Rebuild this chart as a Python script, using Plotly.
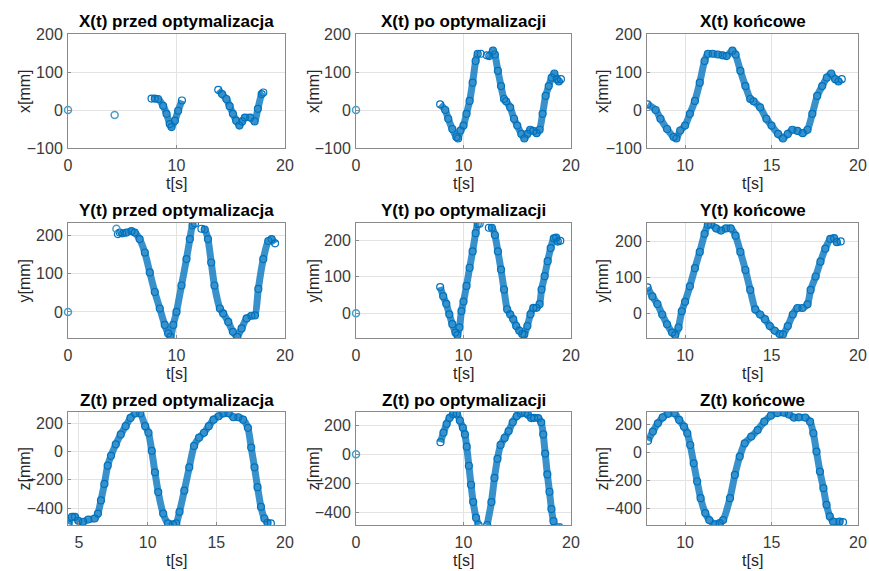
import plotly.graph_objects as go

# ---------------- data ----------------
# X(t) końcowe
t_x_final = [7.83, 8.3, 8.58, 8.96, 9.34, 9.5, 9.72, 10.0, 10.28, 10.57, 10.85, 11.13, 11.32, 11.6,
             11.9, 12.17, 12.4, 12.74, 12.92, 13.2, 13.49, 13.77, 13.96, 14.34, 14.7, 15.0, 15.38,
             15.66, 15.94, 16.2, 16.5, 16.8, 17.08, 17.36, 17.64, 17.93, 18.2, 18.45, 18.68, 18.87, 19.06]
x_final = [15, 0, -23, -50, -71, -75, -54, -41, -10, 24, 72, 129, 148, 148,
           146, 144, 142, 156, 146, 103, 63, 29, 23, 7, -23, -41, -63,
           -75, -63, -52, -55, -61, -52, -10, 37, 63, 85, 96, 81, 75, 81]

# Y(t) końcowe
t_y_final = [7.83, 8.11, 8.4, 8.68, 8.96, 9.25, 9.43, 9.62, 9.81, 10.0, 10.28, 10.57, 10.85, 11.13,
             11.32, 11.5, 11.8, 12.08, 12.36, 12.64, 12.92, 13.2, 13.49, 13.77, 14.06, 14.34, 14.62,
             14.9, 15.19, 15.47, 15.66, 15.94, 16.23, 16.5, 16.79, 17.08, 17.26, 17.55, 17.83, 18.11,
             18.4, 18.62, 18.77, 19.0]
y_final = [72, 47, 26, -3, -30, -53, -60, -39, 6, 32, 75, 125, 170, 220,
           245, 246, 235, 229, 235, 235, 215, 170, 120, 65, 11, -3, -16,
           -35, -48, -57, -58, -35, -3, 15, 15, 25, 65, 102, 143, 179,
           206, 208, 197, 199]

# Z(t) końcowe
t_z_final = [7.86, 8.14, 8.43, 8.71, 9.03, 9.38, 9.66, 9.94, 10.13, 10.3, 10.5, 10.7, 10.9, 11.17,
             11.4, 11.74, 12.0, 12.2, 12.6, 12.88, 13.16, 13.45, 13.83, 14.2, 14.58, 14.96, 15.34,
             15.72, 16.0, 16.29, 16.57, 16.95, 17.23, 17.42, 17.6, 17.8, 18.0, 18.18, 18.37, 18.56,
             18.94, 19.13]
z_final = [83, 148, 207, 250, 275, 280, 231, 183, 136, 52, -79, -209, -328, -435,
           -485, -515, -507, -485, -328, -162, -31, 64, 112, 159, 219, 262, 280,
           283, 271, 248, 250, 248, 219, 136, 5, -138, -257, -376, -459, -495,
           -495, -500]

# "po optymalizacji": same samples, missing time windows + a sample at t=0
gap_x_po = (11.65, 12.1)
gap_y_po = (11.6, 12.2)
gap_z_po = (11.42, 12.18)
origin_t = [0.0]
origin_v = [0]

# X(t) przed optymalizacja
t_x_pre_pts = [0.0, 4.3]
x_pre_pts = [0, -13]
t_x_pre_a = [7.7, 8.0, 8.3, 8.77, 9.08, 9.38, 9.54, 9.85, 10.15, 10.5]
x_pre_a = [30, 30, 29, 11, -10, -37, -45, -28, -2, 25]
t_x_pre_b = [13.85, 14.2, 14.6, 14.9, 15.2, 15.5, 15.8, 16.05, 16.3, 16.8, 17.2, 17.5, 17.85, 18.0]
x_pre_b = [53, 42, 29, 10, -10, -28, -41, -30, -20, -20, -30, 3, 42, 46]

# Y(t) przed optymalizacja
t_y_pre_pts = [0.0, 4.46]
y_pre_pts = [0, 217]
t_y_pre_a = [4.6, 4.77, 5.0, 5.38, 5.85, 6.15, 6.6, 7.08, 7.54, 8.0, 8.46, 8.92, 9.23, 9.45, 9.7,
             10.0, 10.46, 10.92, 11.23, 11.48, 11.7]
y_pre_a = [203, 207, 205, 207, 211, 207, 190, 155, 103, 52, 9, -34, -56, -65, -34,
           0, 69, 138, 190, 226, 231]
t_y_pre_b = [12.3, 12.6, 12.9, 13.2, 13.5, 14.0, 14.3, 14.77, 15.2, 15.6, 16.0, 16.46, 16.9, 17.23,
             17.54, 18.0, 18.46, 18.77, 19.08]
y_pre_b = [217, 215, 190, 129, 69, 9, -4, -26, -52, -65, -43, -17, -10, -9,
           60, 138, 185, 190, 179]

# Z(t) przed optymalizacja
t_z_pre = [4.24, 4.48, 4.71, 4.95, 5.3, 5.67, 6.14, 6.38, 6.6, 6.85, 7.09, 7.33, 7.68, 8.04, 8.4,
           8.75, 9.1, 9.46, 9.82, 10.06, 10.3, 10.53, 10.77, 11.13, 11.48, 11.84, 12.08, 12.32,
           12.67, 13.03, 13.38, 13.74, 14.1, 14.45, 14.8, 15.17, 15.52, 15.88, 16.24, 16.6, 16.95,
           17.3, 17.54, 17.78, 18.0, 18.25, 18.5, 18.73, 18.97]
z_pre = [-515, -462, -462, -490, -497, -481, -474, -439, -346, -229, -100, -30, 51, 121, 180,
         238, 270, 270, 180, 133, 5, -147, -287, -439, -509, -515, -509, -427,
         -276, -112, 40, 98, 133, 180, 226, 250, 270, 272, 243, 243, 226,
         168, 28, -112, -252, -392, -474, -504, -509]

titles = ["X(t) przed optymalizacja", "X(t) po optymalizacji", "X(t) końcowe",
          "Y(t) przed optymalizacja", "Y(t) po optymalizacji", "Y(t) końcowe",
          "Z(t) przed optymalizacja", "Z(t) po optymalizacji", "Z(t) końcowe"]
ylabels = ["x[mm]", "y[mm]", "z[mm]"]
xlabel = "t[s]"

# ---------------- helpers ----------------
def split_gap(t, v, gap):
    a = [(ti, vi) for ti, vi in zip(t, v) if ti <= gap[0]]
    b = [(ti, vi) for ti, vi in zip(t, v) if ti >= gap[1]]
    return [([p[0] for p in a], [p[1] for p in a]), ([p[0] for p in b], [p[1] for p in b])]

panels = [
    dict(curves=[(t_x_pre_a, x_pre_a), (t_x_pre_b, x_pre_b)], pts=(t_x_pre_pts, x_pre_pts)),
    dict(curves=split_gap(t_x_final, x_final, gap_x_po), pts=(origin_t, origin_v)),
    dict(curves=[(t_x_final, x_final)], pts=None),
    dict(curves=[(t_y_pre_a, y_pre_a), (t_y_pre_b, y_pre_b)], pts=(t_y_pre_pts, y_pre_pts)),
    dict(curves=split_gap(t_y_final, y_final, gap_y_po), pts=(origin_t, origin_v)),
    dict(curves=[(t_y_final, y_final)], pts=None),
    dict(curves=[(t_z_pre, z_pre)], pts=None),
    dict(curves=split_gap(t_z_final, z_final, gap_z_po), pts=(origin_t, origin_v)),
    dict(curves=[(t_z_final, z_final)], pts=None),
]

# ---------------- layout geometry (window pixels) ----------------
W, H = 869, 571
col_px = [(68, 285), (356, 571), (647, 858)]
row_px = [(34, 148), (223, 338), (412, 525)]
ylab_x = [24, 313, 602]

xranges = [[0, 20], [0, 20], [7.8, 20],
           [0, 20], [0, 20], [7.8, 20],
           [4.2, 20], [0, 20], [7.8, 20]]
yranges = [[-100, 200], [-100, 200], [-100, 200],
           [-68, 232], [-68, 248], [-68, 250],
           [-520, 280], [-485, 290], [-520, 288]]
xticks = [[0, 10, 20], [0, 10, 20], [10, 15, 20],
          [0, 10, 20], [0, 10, 20], [10, 15, 20],
          [5, 10, 15, 20], [0, 10, 20], [10, 15, 20]]
yticks = [[-100, 0, 100, 200], [0, 100, 200], [-400, -200, 0, 200]]

BLUE = "#0072BD"
FONT = "Liberation Sans, Arial, sans-serif"

def fx(px):
    return px / W

def fy(py):
    return 1 - py / H

fig = go.Figure()
layout = dict(width=W, height=H, autosize=False, margin=dict(l=0, r=0, t=0, b=0, pad=0),
              paper_bgcolor="white", plot_bgcolor="white", showlegend=False,
              font=dict(family=FONT, size=15, color="#3a3a3a"))
annotations = []

for i in range(9):
    r, c = divmod(i, 3)
    sfx = "" if i == 0 else str(i + 1)
    xa, ya = "x" + sfx, "y" + sfx
    x0, x1 = col_px[c]
    y0, y1 = row_px[r]
    axstyle = dict(showline=True, mirror=True, linecolor="#8a8a8a", linewidth=1,
                   showgrid=True, gridcolor="#e3e3e3", gridwidth=1, zeroline=False,
                   ticks="inside", ticklen=3, tickcolor="#8a8a8a", automargin=False,
                   ticklabeloverflow="allow",
                   tickfont=dict(family=FONT, size=16, color="#3a3a3a"))
    layout["xaxis" + sfx] = dict(domain=[fx(x0), fx(x1)], anchor=ya, range=xranges[i],
                                 tickvals=xticks[i], ticklabelstandoff=3, **axstyle)
    layout["yaxis" + sfx] = dict(domain=[fy(y1), fy(y0)], anchor=xa, range=yranges[i],
                                 tickvals=yticks[r], ticklabelstandoff=1, **axstyle)
    p = panels[i]
    for (tt, vv) in p["curves"]:
        fig.add_trace(go.Scatter(x=tt, y=vv, xaxis=xa, yaxis=ya, mode="lines+markers",
                                 line=dict(color="rgba(0,114,189,0.78)", width=7, shape="spline",
                                           smoothing=0.6),
                                 marker=dict(symbol="circle-open", size=7, color=BLUE,
                                             line=dict(width=1.2, color=BLUE)),
                                 hoverinfo="skip"))
    if p["pts"] is not None:
        fig.add_trace(go.Scatter(x=p["pts"][0], y=p["pts"][1], xaxis=xa, yaxis=ya, mode="markers",
                                 marker=dict(symbol="circle-open", size=7, color="#4a9cc4",
                                             line=dict(width=1.5, color="#4a9cc4")),
                                 cliponaxis=False, hoverinfo="skip"))
    # title
    annotations.append(dict(text="<b>" + titles[i] + "</b>", xref="paper", yref="paper",
                            x=fx((x0 + x1) / 2), y=fy(y0 - 12), xanchor="center",
                            yanchor="middle", showarrow=False,
                            font=dict(family=FONT, size=17, color="#000000")))
    # x label
    annotations.append(dict(text=xlabel, xref="paper", yref="paper",
                            x=fx((x0 + x1) / 2), y=fy(y1 + 35), xanchor="center",
                            yanchor="middle", showarrow=False,
                            font=dict(family=FONT, size=16, color="#262626")))
    # y label
    annotations.append(dict(text=ylabels[r], xref="paper", yref="paper",
                            x=fx(ylab_x[c]), y=fy((y0 + y1) / 2), xanchor="center",
                            yanchor="middle", textangle=-90, showarrow=False,
                            font=dict(family=FONT, size=16, color="#262626")))

layout["annotations"] = annotations
fig.update_layout(**layout)
fig.write_html("out.html", config={"displayModeBar": False},
               post_script="document.body.style.margin='0';document.body.style.overflow='hidden';")
